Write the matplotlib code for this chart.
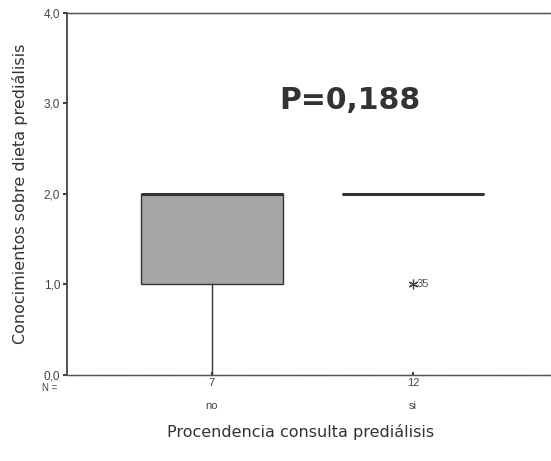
import matplotlib.pyplot as plt

# datos (resumen del boxplot)
categorias = ["no", "si"]
n_casos = [7, 12]
minimo = [0.0, 2.0]
q1 = [1.0, 2.0]
mediana = [2.0, 2.0]
q3 = [2.0, 2.0]
maximo = [2.0, 2.0]
atipicos = [[], [1.0]]
etiquetas_atipicos = [[], ["35"]]
y_ticks = [0.0, 1.0, 2.0, 3.0, 4.0]
p_valor = "P=0,188"

plt.rcParams['font.family'] = ['Liberation Sans', 'DejaVu Sans']

fig = plt.figure(figsize=(5.51, 4.61), dpi=100)
ax = fig.add_axes([0.1216, 0.1866, 0.8784, 0.7852])

stats = []
for i, cat in enumerate(categorias):
    stats.append({
        "label": cat, "whislo": minimo[i], "q1": q1[i], "med": mediana[i],
        "q3": q3[i], "whishi": maximo[i], "fliers": atipicos[i],
    })

pos = list(range(1, len(categorias) + 1))
ax.bxp(stats, positions=pos, widths=0.71, patch_artist=True, showcaps=False,
       boxprops=dict(facecolor='#a6a6a6', edgecolor='#333333', linewidth=1.0),
       medianprops=dict(color='#333333', linewidth=2.2),
       whiskerprops=dict(color='#333333', linewidth=1.0),
       flierprops=dict(marker=(6, 2, 0), markersize=7, markeredgecolor='#444444',
                       markeredgewidth=0.9, linestyle='none'))

# etiquetas de casos atípicos
for i, vals in enumerate(atipicos):
    for v, lab in zip(vals, etiquetas_atipicos[i]):
        ax.text(pos[i] + 0.02, v, lab, fontsize=8, color='#555555',
                va='center', ha='left')

ax.set_xlim(0.279, 2.687)
ax.set_ylim(0, 4)
ax.set_yticks(y_ticks)
ax.set_yticklabels([f"{t:.1f}".replace('.', ',') for t in y_ticks], fontsize=8.5, color='#444444')
ax.set_xticks(pos)
ax.set_xticklabels([f"{n}\n\n{c}" for n, c in zip(n_casos, categorias)], fontsize=8, color='#444444',
                   linespacing=1.2)
ax.tick_params(axis='both', length=3, width=1.5, color='#444444', pad=2)
ax.tick_params(axis='x', direction='in', length=2)

ax.text(-0.02, -0.035, "N =", transform=ax.transAxes, fontsize=7, color='#444444',
        ha='right', va='center')

ax.spines['right'].set_visible(False)
ax.spines['left'].set_color('#444444')
ax.spines['left'].set_linewidth(1.3)
for s in ['top', 'bottom']:
    ax.spines[s].set_color('#555555')
    ax.spines[s].set_linewidth(1.0)
    ax.spines[s].set_linestyle((0, (1, 0.5)))

ax.text(1.685, 3.03, p_valor, fontsize=21.5, fontweight='bold', color='#333333',
        ha='center', va='center', family='DejaVu Sans')

ax.set_ylabel("Conocimientos sobre dieta prediálisis", fontsize=11.5, color='#333333',
              family='DejaVu Sans')
ax.yaxis.set_label_coords(-0.08, 0.5)
ax.set_xlabel("Procendencia consulta prediálisis", fontsize=11.5, color='#333333',
              family='DejaVu Sans')
ax.xaxis.set_label_coords(0.482, -0.135)

fig.savefig("out.png", dpi=100)
